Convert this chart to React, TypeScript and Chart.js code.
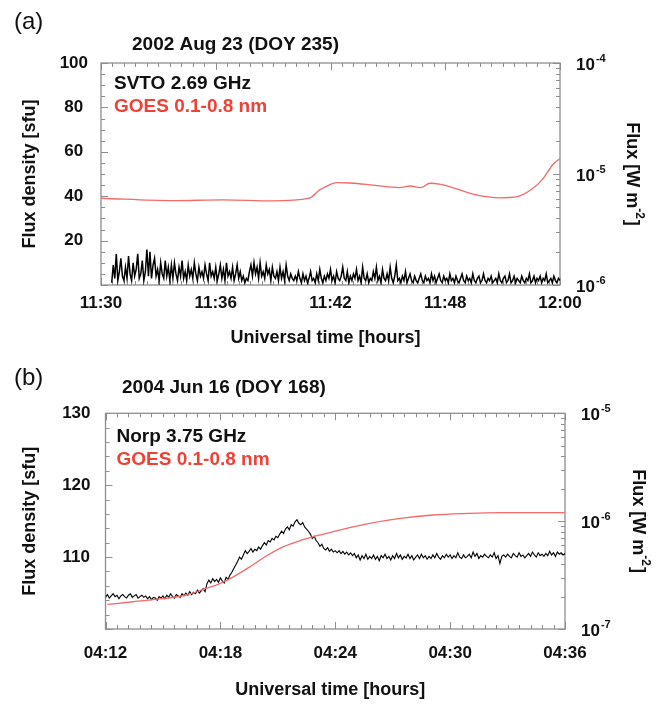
import React, { useEffect, useRef } from 'react';
import { Chart, registerables } from 'chart.js';

Chart.register(...registerables);

const FONT = '"Liberation Sans", Arial, Helvetica, sans-serif';
const W = 664;
const INK = '#111111';
const RED_TEXT = '#ef4136';
const RED_LINE = '#f36a68';
const FRAME = '#8e8e8e';

// ---------------- Panel (a): 2002 Aug 23 ----------------
const A_LETTER = '(a)';
const A_TITLE = '2002 Aug 23 (DOY 235)';
const A_RADIO_NAME = 'SVTO 2.69 GHz';
const A_GOES_NAME = 'GOES 0.1-0.8 nm';
const A_X_LABELS = ['11:30', '11:36', '11:42', '11:48', '12:00'];
const A_Y_TICKS = [0, 100, 20]; // min, max, step
const A_LOG_DECADES = [-6, -5, -4];
// GOES 0.1-0.8 nm flux (W m^-2) vs axis time (minutes on a 0-24 axis)
const A_GOES_T = [0, 3.76, 6.4, 8.96, 10.88, 11.44, 11.76, 12.32, 13.04, 14.24, 15.6, 16.16, 16.72, 17.2, 17.76, 18.64, 19.44, 20.88, 21.76, 22.48, 23.12, 23.6, 24];
const A_GOES_F = [6.05e-6, 5.75e-6, 5.85e-6, 5.72e-6, 6.05e-6, 7.2e-6, 7.7e-6, 8.35e-6, 8.3e-6, 7.95e-6, 7.55e-6, 7.8e-6, 7.55e-6, 8.25e-6, 8.05e-6, 7.3e-6, 6.6e-6, 6.1e-6, 6.25e-6, 7.2e-6, 9.1e-6, 1.2e-5, 1.38e-5];
// SVTO 2.69 GHz flux density (sfu), sampled every 0.08 axis-minutes from 0.56
const A_RADIO_T0 = 0.56;
const A_RADIO_DT = 0.08;
const A_RADIO = [
  1, 9, 3, 14, 2, 6, 12, 4, 2, 8,
  3, 13, 5, 2, 10, 4, 7, 14, 3, 5,
  11, 2, 6, 16, 4, 15, 3, 9, 12, 4,
  7, 2, 10, 5, 3, 11, 4, 8, 2, 9,
  3, 10, 5, 2, 8, 4, 11, 3, 6, 2,
  9, 4, 7, 3, 10, 5, 2, 8, 4, 6,
  3, 9, 5, 2, 10, 4, 6, 3, 8, 2,
  5, 9, 3, 7, 2, 10, 4, 6, 3, 8,
  2, 5, 9, 3, 6, 2, 4, 1, 3, 2,
  6, 9, 4, 10, 5, 8, 3, 10, 4, 6,
  3, 9, 5, 7, 2, 8, 4, 3, 6, 2,
  8, 3, 6, 2, 9, 4, 2, 5, 3, 2,
  4, 2, 6, 3, 1, 5, 2, 4, 1, 3,
  6, 2, 3, 1, 5, 2, 7, 3, 1, 4,
  2, 5, 3, 7, 2, 4, 1, 6, 3, 2,
  4, 8, 3, 2, 6, 1, 4, 2, 5, 3,
  7, 2, 4, 1, 8, 3, 2, 5, 1, 3,
  2, 6, 3, 8, 2, 4, 1, 7, 3, 2,
  5, 2, 8, 3, 1, 4, 9, 2, 3, 1,
  4, 2, 6, 1, 3, 5, 2, 1, 4, 2,
  1, 3, 5, 2, 1, 4, 2, 3, 1, 5,
  2, 4, 1, 3, 5, 2, 1, 4, 2, 3,
  1, 5, 2, 3, 1, 4, 2, 1, 3, 5,
  2, 1, 4, 2, 3, 1, 5, 2, 1, 3,
  4, 1, 2, 5, 2, 1, 3, 2, 4, 1,
  2, 3, 1, 5, 2, 1, 3, 4, 1, 2,
  5, 1, 2, 4, 1, 3, 2, 1, 4, 2,
  1, 3, 2, 5, 1, 2, 4, 1, 3, 2,
  4, 1, 3, 2, 5, 1, 2, 3, 1, 4,
  2, 1, 3, 2,
];

// ---------------- Panel (b): 2004 Jun 16 ----------------
const B_LETTER = '(b)';
const B_TITLE = '2004 Jun 16 (DOY 168)';
const B_RADIO_NAME = 'Norp 3.75 GHz';
const B_GOES_NAME = 'GOES 0.1-0.8 nm';
const B_X_LABELS = ['04:12', '04:18', '04:24', '04:30', '04:36'];
const B_Y_TICKS = [100, 130, 10];
const B_LOG_DECADES = [-7, -6, -5];
const B_GOES_T = [0.1, 1.45, 3.2, 4.25, 5.1, 6.0, 6.7, 7.55, 8.4, 9.3, 10.15, 11.0, 11.9, 13.6, 15.4, 17.1, 18.9, 20.6, 24];
const B_GOES_F = [1.69e-7, 1.79e-7, 1.93e-7, 2.07e-7, 2.33e-7, 2.65e-7, 3.06e-7, 3.78e-7, 4.75e-7, 5.8e-7, 6.6e-7, 7.3e-7, 8.0e-7, 9.4e-7, 1.06e-6, 1.14e-6, 1.18e-6, 1.2e-6, 1.2e-6];
// Norp 3.75 GHz flux density (sfu), sampled every 0.1 min from 04:12
const B_RADIO_T0 = 0;
const B_RADIO_DT = 0.1;
const B_RADIO = [
  104.4, 104.8, 104.3, 104.6, 104.9, 104.5, 104.7, 104.2, 104.6, 104.8,
  104.5, 104.3, 104.7, 104.9, 104.4, 104.6, 104.8, 104.3, 104.5, 104.7,
  104.4, 104.6, 104.2, 104.5, 104.1, 104.4, 104.3, 104.0, 104.5, 104.3,
  104.6, 104.2, 104.7, 104.4, 104.9, 104.5, 104.3, 104.8, 104.6, 104.4,
  104.9, 104.6, 105.0, 104.7, 105.2, 104.8, 105.1, 104.9, 105.4, 105.0,
  105.3, 105.6, 105.2, 106.3, 106.8, 106.4, 107.0, 106.6, 106.9, 106.5,
  107.1, 106.7, 106.4, 107.2, 106.9, 107.5, 107.9, 108.4, 108.9, 109.4,
  110.0, 109.7, 110.3, 110.9, 110.5, 110.8, 111.2, 110.7, 111.1, 110.9,
  111.4, 111.1, 111.6, 112.0, 111.7, 112.3, 112.1, 112.6, 112.4, 112.9,
  112.7, 113.2, 113.6, 113.3, 113.9, 114.2, 113.8, 114.5, 114.3, 114.9,
  115.2, 114.7, 114.5, 114.8, 114.2, 113.9, 113.6, 113.2, 112.6, 112.9,
  112.3, 112.0, 111.5, 111.8, 111.2, 111.0, 111.3, 110.8, 111.1, 110.7,
  110.9, 110.6, 110.9, 110.5, 110.8, 110.4, 110.7, 110.3, 110.6, 110.2,
  110.5, 109.9, 110.3, 109.6, 110.2, 109.8, 110.4, 109.7, 110.1, 109.8,
  110.3, 109.7, 110.1, 109.5, 110.2, 109.9, 110.4, 109.8, 110.1, 109.6,
  110.2, 109.8, 110.5, 109.9, 110.3, 109.7, 110.1, 109.9, 110.4, 109.8,
  110.2, 109.6, 110.0, 110.3, 109.8, 110.4, 109.9, 110.2, 109.7, 110.1,
  109.8, 110.3, 109.9, 110.5, 110.0, 109.7, 110.2, 109.9, 110.4, 110.0,
  110.3, 109.8, 110.2, 109.9, 110.6, 110.0, 109.8, 110.3, 109.9, 110.1,
  110.4, 109.9, 110.7, 110.1, 110.5, 109.8, 110.2, 110.0, 110.4, 110.1,
  109.9, 110.3, 110.0, 110.6, 109.8, 110.2, 109.1, 110.1, 110.3, 110.0,
  110.4, 110.1, 109.9, 110.5, 110.2, 110.0, 110.6, 110.1, 110.3, 109.9,
  110.2, 110.5, 110.1, 110.7, 110.3, 110.0, 110.6, 110.2, 110.4, 110.1,
  110.5, 110.2, 110.8, 110.3, 110.6, 110.1, 110.7, 110.4, 110.6, 110.3,
  110.5,
];

const X_TITLE = 'Universal time [hours]';
const Y_TITLE = 'Flux density [sfu]';
const Y2_TITLE_MAIN = 'Flux [W m';
const Y2_TITLE_SUP = '-2';
const Y2_TITLE_END = ']';

type Cfg = {
  height: number;
  ca: { left: number; top: number; right: number; bottom: number };
  letter: string; letterX: number; letterY: number;
  title: string; titleX: number; titleY: number;
  radioName: string; goesName: string; legendDX: number; legendDY1: number; legendDY2: number;
  xLabels: string[]; xMinorDiv: number; xTickPad: number;
  yTicks: number[]; yMinorDiv: number; yTickPad: number;
  decades: number[];
  radioT0: number; radioDT: number; radio: number[]; radioWidth: number;
  goesT: number[]; goesF: number[];
  yTitleX: number; y2TitleDX: number; xTitleY: number;
};

const PANEL_A: Cfg = {
  height: 352,
  ca: { left: 101, top: 63, right: 560, bottom: 285 },
  letter: A_LETTER, letterX: 14, letterY: 22,
  title: A_TITLE, titleX: 132, titleY: 45,
  radioName: A_RADIO_NAME, goesName: A_GOES_NAME, legendDX: 13, legendDY1: 21, legendDY2: 44,
  xLabels: A_X_LABELS, xMinorDiv: 10, xTickPad: 0,
  yTicks: A_Y_TICKS, yMinorDiv: 4, yTickPad: 5,
  decades: A_LOG_DECADES,
  radioT0: A_RADIO_T0, radioDT: A_RADIO_DT, radio: A_RADIO, radioWidth: 1.5,
  goesT: A_GOES_T, goesF: A_GOES_F,
  yTitleX: 30, y2TitleDX: 72, xTitleY: 338,
};

const PANEL_B: Cfg = {
  height: 353,
  ca: { left: 105.5, top: 61.3, right: 565, bottom: 277 },
  letter: B_LETTER, letterX: 14, letterY: 26,
  title: B_TITLE, titleX: 122, titleY: 35.5,
  radioName: B_RADIO_NAME, goesName: B_GOES_NAME, legendDX: 11, legendDY1: 23.5, legendDY2: 46.5,
  xLabels: B_X_LABELS, xMinorDiv: 10, xTickPad: 6,
  yTicks: B_Y_TICKS, yMinorDiv: 5, yTickPad: 7,
  decades: B_LOG_DECADES,
  radioT0: B_RADIO_T0, radioDT: B_RADIO_DT, radio: B_RADIO, radioWidth: 1.1,
  goesT: B_GOES_T, goesF: B_GOES_F,
  yTitleX: 30, y2TitleDX: 73, xTitleY: 338,
};

function framePlugin(cfg: Cfg) {
  return {
    id: 'frameTicks',
    beforeDatasetsDraw(chart: any) {
      const { ctx, chartArea: ca, scales } = chart;
      ctx.save();
      ctx.strokeStyle = FRAME;
      ctx.lineWidth = 1;
      const MAJ = 7, MIN = 4;
      const xs = scales.x;
      const xStep = 6 / cfg.xMinorDiv;
      const nx = Math.round((xs.max - xs.min) / xStep);
      ctx.beginPath();
      for (let i = 0; i <= nx; i++) {
        const px = Math.round(xs.getPixelForValue(xs.min + i * xStep)) + 0.5;
        const len = i % cfg.xMinorDiv === 0 ? MAJ : MIN;
        ctx.moveTo(px, ca.bottom); ctx.lineTo(px, ca.bottom - len);
        ctx.moveTo(px, ca.top); ctx.lineTo(px, ca.top + len);
      }
      const ys = scales.y;
      const yStep = cfg.yTicks[2] / cfg.yMinorDiv;
      const ny = Math.round((ys.max - ys.min) / yStep);
      for (let i = 0; i <= ny; i++) {
        const py = Math.round(ys.getPixelForValue(ys.min + i * yStep)) + 0.5;
        const len = i % cfg.yMinorDiv === 0 ? MAJ : MIN;
        ctx.moveTo(ca.left, py); ctx.lineTo(ca.left + len, py);
      }
      const y2 = scales.y2;
      for (let d = cfg.decades[0]; d <= cfg.decades[cfg.decades.length - 1]; d++) {
        for (let m = 1; m <= 9; m++) {
          const v = m * Math.pow(10, d);
          if (v > y2.max * 1.0001) break;
          const py = Math.round(y2.getPixelForValue(v)) + 0.5;
          const len = m === 1 ? MAJ : MIN;
          ctx.moveTo(ca.right, py); ctx.lineTo(ca.right - len, py);
        }
      }
      ctx.stroke();
      ctx.lineWidth = 1.3;
      ctx.strokeRect(ca.left, ca.top, ca.right - ca.left, ca.bottom - ca.top);
      ctx.restore();
    },
  };
}

function textPlugin(cfg: Cfg) {
  return {
    id: 'panelText',
    afterDraw(chart: any) {
      const { ctx, chartArea: ca, scales } = chart;
      ctx.save();
      ctx.textBaseline = 'middle';
      ctx.textAlign = 'left';
      ctx.fillStyle = INK;
      ctx.font = `24px ${FONT}`;
      ctx.fillText(cfg.letter, cfg.letterX, cfg.letterY);
      ctx.font = `bold 19px ${FONT}`;
      ctx.fillText(cfg.title, cfg.titleX, cfg.titleY);
      ctx.fillText(cfg.radioName, ca.left + cfg.legendDX, ca.top + cfg.legendDY1);
      ctx.fillStyle = RED_TEXT;
      ctx.fillText(cfg.goesName, ca.left + cfg.legendDX, ca.top + cfg.legendDY2);
      ctx.fillStyle = INK;
      ctx.font = `bold 18px ${FONT}`;
      ctx.textAlign = 'center';
      ctx.fillText(X_TITLE, (ca.left + ca.right) / 2 - 5, cfg.xTitleY);
      const cy = (ca.top + ca.bottom) / 2;
      ctx.save();
      ctx.translate(cfg.yTitleX, cy);
      ctx.rotate(-Math.PI / 2);
      ctx.fillText(Y_TITLE, 0, 0);
      ctx.restore();
      ctx.save();
      ctx.translate(ca.right + cfg.y2TitleDX, cy);
      ctx.rotate(Math.PI / 2);
      ctx.textAlign = 'left';
      const mainFont = `bold 18px ${FONT}`;
      const supFont = `bold 12px ${FONT}`;
      ctx.font = mainFont;
      const w1 = ctx.measureText(Y2_TITLE_MAIN).width;
      const w3 = ctx.measureText(Y2_TITLE_END).width;
      ctx.font = supFont;
      const w2 = ctx.measureText(Y2_TITLE_SUP).width;
      const x0 = -(w1 + w2 + w3 + 1) / 2;
      ctx.font = mainFont;
      ctx.fillText(Y2_TITLE_MAIN, x0, 0);
      ctx.font = supFont;
      ctx.fillText(Y2_TITLE_SUP, x0 + w1, -7);
      ctx.font = mainFont;
      ctx.fillText(Y2_TITLE_END, x0 + w1 + w2 + 1, 0);
      ctx.restore();
      const y2 = scales.y2;
      for (const d of cfg.decades) {
        const py = y2.getPixelForValue(Math.pow(10, d));
        const lx = ca.right + 16;
        ctx.textAlign = 'left';
        ctx.font = `bold 17px ${FONT}`;
        ctx.fillText('10', lx, py + 2);
        const w = ctx.measureText('10').width;
        ctx.font = `bold 11px ${FONT}`;
        ctx.fillText(String(d), lx + w + 1, py - 4);
      }
      ctx.restore();
    },
  };
}

function Panel({ cfg }: { cfg: Cfg }) {
  const ref = useRef<HTMLCanvasElement | null>(null);
  useEffect(() => {
    if (!ref.current) return;
    const radioPts = cfg.radio.map((v, i) => ({ x: cfg.radioT0 + i * cfg.radioDT, y: v }));
    const goesPts = cfg.goesT.map((t, i) => ({ x: t, y: cfg.goesF[i] }));
    const tickFont = { family: FONT, size: 17, weight: 'bold' as const };
    const ca = cfg.ca;
    const chart = new Chart(ref.current, {
      type: 'line',
      data: {
        datasets: [
          {
            label: cfg.goesName,
            data: goesPts,
            yAxisID: 'y2',
            borderColor: RED_LINE,
            borderWidth: 1.3,
            pointRadius: 0,
            cubicInterpolationMode: 'monotone',
          },
          {
            label: cfg.radioName,
            data: radioPts,
            yAxisID: 'y',
            borderColor: '#000000',
            borderWidth: cfg.radioWidth,
            pointRadius: 0,
            tension: 0,
          },
        ],
      },
      options: {
        responsive: false,
        animation: false,
        devicePixelRatio: 1,
        layout: { padding: { top: ca.top, left: 0, right: 0, bottom: 0 } },
        plugins: { legend: { display: false }, tooltip: { enabled: false }, title: { display: false } },
        scales: {
          x: {
            type: 'linear',
            min: 0,
            max: 24,
            grid: { display: false },
            border: { display: false },
            ticks: {
              stepSize: 6,
              font: tickFont,
              color: INK,
              padding: cfg.xTickPad,
              maxRotation: 0,
              autoSkip: false,
              callback: (_v: any, i: number) => cfg.xLabels[i],
            },
            afterFit: (s: any) => { s.height = cfg.height - ca.bottom; },
          },
          y: {
            type: 'linear',
            position: 'left',
            min: cfg.yTicks[0],
            max: cfg.yTicks[1],
            grid: { display: false },
            border: { display: false },
            ticks: {
              stepSize: cfg.yTicks[2],
              font: tickFont,
              color: INK,
              padding: cfg.yTickPad,
              crossAlign: 'center',
              callback: (v: any) => (v === cfg.yTicks[0] ? '' : String(v)),
            },
            afterFit: (s: any) => { s.width = ca.left; },
          },
          y2: {
            type: 'logarithmic',
            position: 'right',
            min: Math.pow(10, cfg.decades[0]),
            max: Math.pow(10, cfg.decades[cfg.decades.length - 1]),
            grid: { display: false },
            border: { display: false },
            ticks: { display: false },
            afterFit: (s: any) => { s.width = W - ca.right; },
          },
        },
      },
      plugins: [framePlugin(cfg), textPlugin(cfg)],
    } as any);
    return () => chart.destroy();
  }, [cfg]);
  return <canvas ref={ref} width={W} height={cfg.height} style={{ display: 'block', width: W, height: cfg.height }} />;
}

export default function App() {
  return (
    <div style={{ position: 'absolute', left: 0, top: 0, width: W, height: 705, background: '#fff' }}>
      <Panel cfg={PANEL_A} />
      <Panel cfg={PANEL_B} />
    </div>
  );
}
